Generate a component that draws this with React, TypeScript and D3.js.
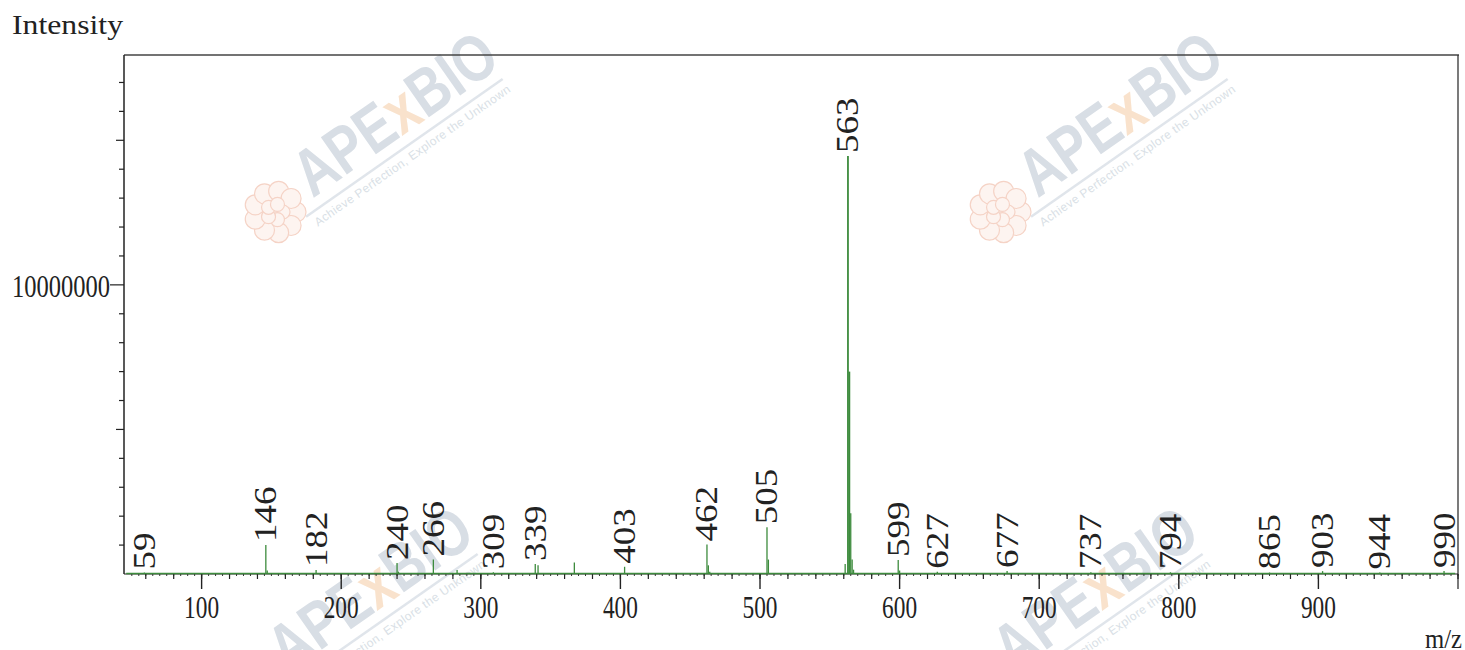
import { scaleLinear, range } from "d3";

const width = 1465;
const height = 650;
const plotLeft = 124;
const plotRight = 1458;
const plotTop = 55;
const plotBottom = 574;

// peaks: m/z and intensity (counts)
const peakMz = [
  59, 146, 147, 182, 240, 241, 266, 283, 309, 339, 341, 367, 403, 462, 463,
  464, 505, 506, 561, 563, 564, 565, 566, 567, 599, 600, 627, 677, 737, 794,
  865, 903, 944, 990,
];
const peakIntensity = [
  50000, 1000000, 120000, 140000, 380000, 80000, 500000, 140000, 60000, 350000,
  300000, 400000, 250000, 1020000, 300000, 80000, 1620000, 500000, 350000,
  14460000, 7000000, 2100000, 500000, 150000, 480000, 120000, 80000, 100000,
  60000, 60000, 50000, 100000, 50000, 100000,
];
const labeledMz = [
  59, 146, 182, 240, 266, 309, 339, 403, 462, 505, 563, 599, 627, 677, 737,
  794, 865, 903, 944, 990,
];
const xTickLabels = [100, 200, 300, 400, 500, 600, 700, 800, 900];
const yTickLabels = [10000000];

const green = "#3d8b3d";
const ink = "#222";
const serif = "'Liberation Serif', 'DejaVu Serif', serif";
const sans = "'Liberation Sans', Arial, sans-serif";

const Watermark = ({ cx, cy }: { cx: number; cy: number }) => (
  <g transform={`translate(${cx}, ${cy}) rotate(-35)`}>
    <text
      x={-120}
      y={2}
      fontFamily={sans}
      fontWeight="bold"
      fontSize={66}
      textLength={232}
      lengthAdjust="spacingAndGlyphs"
      fill="#d8dee5"
    >
      APE<tspan fill="#f9e2cc">x</tspan>BIO
    </text>
    <line x1={-136} y1={13} x2={104} y2={13} stroke="#e0e5eb" strokeWidth={2.5} />
    <text
      x={-132}
      y={28}
      fontFamily={sans}
      fontSize={12}
      textLength={236}
      fill="#d9dfe6"
    >
      Achieve Perfection, Explore the Unknown
    </text>
  </g>
);

const Flower = ({ cx, cy }: { cx: number; cy: number }) => (
  <g transform={`translate(${cx}, ${cy})`} fill="#fdf4f0" stroke="#f5d3c6" strokeWidth={1.2}>
    {range(9).map((i) => (
      <circle
        key={i}
        cx={Math.cos((i * 2 * Math.PI) / 9) * 21}
        cy={Math.sin((i * 2 * Math.PI) / 9) * 21}
        r={10}
      />
    ))}
    {range(5).map((i) => (
      <circle
        key={"c" + i}
        cx={Math.cos((i * 2 * Math.PI) / 5) * 8}
        cy={Math.sin((i * 2 * Math.PI) / 5) * 8}
        r={7}
      />
    ))}
  </g>
);

export default function App() {
  const xScale = scaleLinear().domain([44.4, 1000]).range([plotLeft, plotRight]);
  const yScale = scaleLinear().domain([0, 17.95e6]).range([plotBottom, plotTop]);

  const xTicks5 = range(50, 1001, 5);
  const xTicks20 = range(60, 1001, 20);
  const yTicks = yScale.ticks(18);

  const intensityAt = (mz: number) => {
    const i = peakMz.indexOf(mz);
    return i >= 0 ? peakIntensity[i] : 0;
  };

  return (
    <svg
      width={width}
      height={height}
      viewBox={`0 0 ${width} ${height}`}
      style={{ position: "absolute", left: 0, top: 0, display: "block", background: "#fff" }}
    >
      {/* watermarks */}
      <Flower cx={275} cy={212} />
      <Flower cx={1000} cy={212} />
      <Watermark cx={410} cy={128} />
      <Watermark cx={1135} cy={128} />
      <Watermark cx={385} cy={603} />
      <Watermark cx={1110} cy={603} />

      {/* frame */}
      <line x1={plotLeft} x2={plotRight + 1} y1={plotTop} y2={plotTop} stroke="#444" strokeWidth={1.5} />
      <line x1={plotRight} x2={plotRight} y1={plotTop} y2={plotBottom + 15} stroke="#333" strokeWidth={1.3} />
      <line x1={plotLeft} x2={plotLeft} y1={plotTop} y2={plotBottom} stroke="#222" strokeWidth={1.5} />
      <line x1={plotLeft} x2={plotRight} y1={plotBottom} y2={plotBottom} stroke="#222" strokeWidth={1.2} />

      {/* y ticks */}
      {yTicks.map((t) => {
        const major = t % 5e6 === 0;
        const labeled = yTickLabels.includes(t);
        const len = labeled ? 14 : major ? 8 : 5;
        return t === 0 ? null : (
          <line
            key={t}
            x1={plotLeft - len}
            x2={plotLeft}
            y1={yScale(t)}
            y2={yScale(t)}
            stroke="#222"
            strokeWidth={1.2}
          />
        );
      })}
      {yTickLabels.map((t) => (
        <text
          key={t}
          x={110}
          y={yScale(t) + 12}
          textAnchor="end"
          fontFamily={serif}
          fontSize={32}
          textLength={98}
          lengthAdjust="spacingAndGlyphs"
          fill={ink}
        >
          {t}
        </text>
      ))}

      {/* x ticks */}
      {xTicks5.map((t) => (
        <line key={"m" + t} x1={xScale(t)} x2={xScale(t)} y1={plotBottom} y2={plotBottom + 2} stroke="#333" strokeWidth={1} />
      ))}
      {xTicks20.map((t) => (
        <line key={"n" + t} x1={xScale(t)} x2={xScale(t)} y1={plotBottom} y2={plotBottom + 5} stroke="#222" strokeWidth={1.2} />
      ))}
      {xTickLabels.map((t) => (
        <g key={t}>
          <line x1={xScale(t)} x2={xScale(t)} y1={plotBottom} y2={plotBottom + 15} stroke="#222" strokeWidth={1.4} />
          <text
            x={xScale(t)}
            y={618}
            textAnchor="middle"
            fontFamily={serif}
            fontSize={31}
            textLength={35}
            lengthAdjust="spacingAndGlyphs"
            fill={ink}
          >
            {t}
          </text>
        </g>
      ))}

      {/* spectrum baseline */}
      <line x1={xScale(46)} x2={xScale(998)} y1={yScale(0) - 0.5} y2={yScale(0) - 0.5} stroke={green} strokeWidth={1.3} />

      {/* peaks */}
      {peakMz.map((mz, i) => (
        <line
          key={mz}
          x1={xScale(mz)}
          x2={xScale(mz)}
          y1={yScale(0)}
          y2={yScale(peakIntensity[i])}
          stroke={green}
          strokeWidth={mz === 563 || mz === 564 ? 1.8 : 1.3}
        />
      ))}

      {/* peak labels */}
      {labeledMz.map((mz) => {
        const x = xScale(mz);
        const y = yScale(intensityAt(mz)) - 3;
        const label = String(mz);
        return (
          <text
            key={mz}
            transform={`translate(${x}, ${Math.min(y, plotBottom - 4)}) rotate(-90)`}
            dominantBaseline="central"
            fontFamily={serif}
            fontSize={31}
            textLength={label.length * 18.5}
            lengthAdjust="spacingAndGlyphs"
            fill={ink}
          >
            {label}
          </text>
        );
      })}

      {/* axis titles */}
      <text x={12} y={34} fontFamily={serif} fontSize={28} textLength={111} lengthAdjust="spacingAndGlyphs" fill={ink}>
        Intensity
      </text>
      <text x={1425} y={648} fontFamily={serif} fontSize={28} textLength={37} lengthAdjust="spacingAndGlyphs" fill={ink}>
        m/z
      </text>
    </svg>
  );
}
